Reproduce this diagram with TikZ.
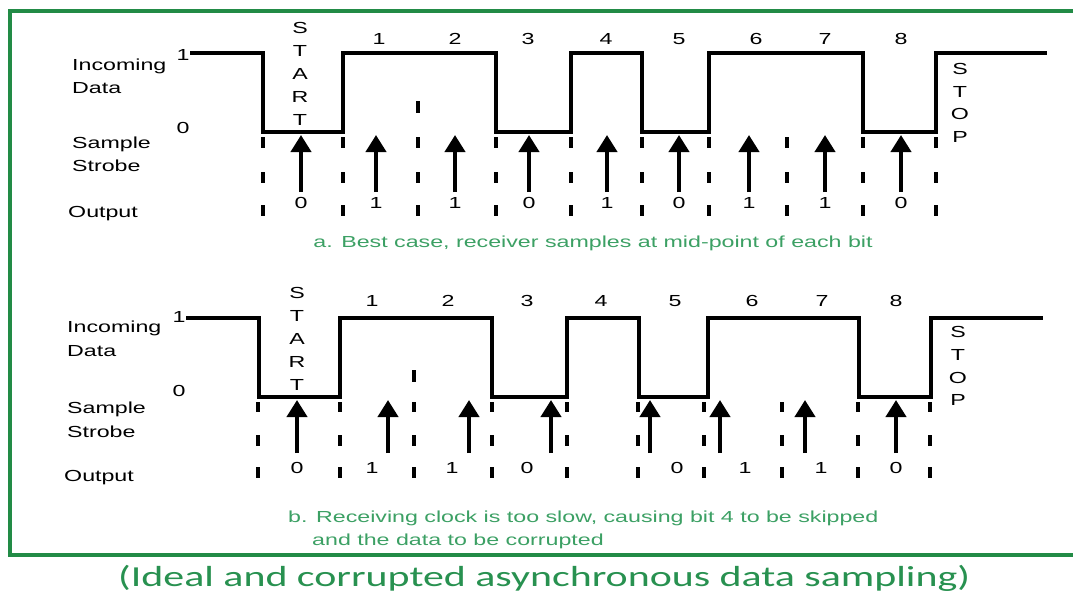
\documentclass[tikz,border=0pt]{standalone}
\usepackage{fontspec}
\usepackage{graphicx}
\usetikzlibrary{arrows.meta}
\newfontfamily\labfont[FakeStretch=1.45]{Liberation Sans}
\newfontfamily\capfont{Carlito}
\definecolor{framegreen}{RGB}{34,139,70}
\definecolor{textgreen}{RGB}{60,160,100}
\definecolor{captiongreen}{RGB}{40,145,80}
\begin{document}
\begin{tikzpicture}[x=1pt,y=-1pt,
  txt/.style={font=\labfont\fontsize{16}{18}\selectfont, inner sep=0pt, text height=11.6pt, text depth=0pt},
  wave/.style={line width=4pt, line join=miter},
  tick/.style={line width=4pt},
  strobe/.style={line width=4pt, -{Triangle[width=20pt,length=17pt]}},
]
\useasboundingbox (0,0) rectangle (1073,595);
% frame
\draw[framegreen, line width=4pt] (1090,11) -- (10,11) -- (10,555) -- (1090,555);

% ===== panel a =====
\node[txt,anchor=west] (inc1) at (72,65) {Incoming};
\node[txt,anchor=west] (dat1) at (72,88) {Data};
\node[txt,anchor=west] (sam1) at (72,143) {Sample};
\node[txt,anchor=west] (str1) at (72,166) {Strobe};
\node[txt,anchor=west] (out1) at (68,212) {Output};
\node[txt] (one1) at (183,55) {1};
\node[txt] (zero1) at (183,128) {0};

\draw[wave] (190,53) -| (263,132) -| (343,53) -| (496,132) -| (571,53) -| (642,132) -| (709,53) -| (863,132) -| (936,53) -- (1047,53);

\foreach \x in {263,343,418,496,571,642,709,787,863,936}
  \foreach \ya/\yb in {137/148,172/183,205/216}
    \draw[tick] (\x,\ya) -- (\x,\yb);
\draw[tick] (418,101) -- (418,113);

\foreach \x [count=\i] in {301,376,455,529,607,679,749,825,901} {
  \coordinate (ta\i) at (\x,192);
  \coordinate (tb\i) at (\x,135);
  \draw[strobe] (ta\i) -- (tb\i);
}

\foreach \l [count=\i] in {S,T,A,R,T}
  \node[txt] (sta\i) at (300,{28+23*(\i-1)}) {\l};
\foreach \l [count=\i] in {S,T,O,P}
  \node[txt] (stoa\i) at (960,{69+22.5*(\i-1)}) {\l};

\foreach \n/\x in {1/379,2/455,3/528,4/606,5/679,6/756,7/825,8/901}
  \node[txt] (bita\n) at (\x,39) {\n};
\foreach \v/\x [count=\i] in {0/301,1/376,1/455,0/529,1/607,0/679,1/749,1/825,0/901}
  \node[txt] (outa\i) at (\x,203) {\v};

\node[txt, textgreen] (capa) at (593,242) {a. Best case, receiver samples at mid-point of each bit};

% ===== panel b =====
\node[txt,anchor=west] (inc2) at (67,327) {Incoming};
\node[txt,anchor=west] (dat2) at (67,351) {Data};
\node[txt,anchor=west] (sam2) at (67,408) {Sample};
\node[txt,anchor=west] (str2) at (67,432) {Strobe};
\node[txt,anchor=west] (out2) at (64,476) {Output};
\node[txt] (one2) at (179,317) {1};
\node[txt] (zero2) at (179,391) {0};

\draw[wave] (186,318) -| (259,397) -| (340,318) -| (492,397) -| (567,318) -| (639,397) -| (708,318) -| (859,397) -| (931,318) -- (1043,318);

\foreach \x in {258,340,414,492,567,638,704,782,858,930}
  \foreach \ya/\yb in {402/412,435/446,467/478}
    \draw[tick] (\x,\ya) -- (\x,\yb);
\draw[tick] (414,370) -- (414,382);

\foreach \x [count=\i] in {297,388,469,551,650,720,805,896} {
  \coordinate (tc\i) at (\x,453);
  \coordinate (td\i) at (\x,400);
  \draw[strobe] (tc\i) -- (td\i);
}

\foreach \l [count=\i] in {S,T,A,R,T}
  \node[txt] (stb\i) at (297,{293+23*(\i-1)}) {\l};
\foreach \l [count=\i] in {S,T,O,P}
  \node[txt] (stob\i) at (958,{332+22.7*(\i-1)}) {\l};

\foreach \n/\x in {1/372,2/448,3/527,4/601,5/675,6/752,7/822,8/896}
  \node[txt] (bitb\n) at (\x,301) {\n};
\foreach \v/\x [count=\i] in {0/297,1/372,1/452,0/527,0/677,1/745,1/821,0/896}
  \node[txt] (outb\i) at (\x,468) {\v};

\node[txt, textgreen, anchor=west] (capb1) at (288,517) {b. Receiving clock is too slow, causing bit 4 to be skipped};
\node[txt, textgreen, anchor=west] (capb2) at (312,540) {and the data to be corrupted};

% main caption
\node[inner sep=0pt, anchor=base west, captiongreen, font=\capfont\fontsize{29}{29}\selectfont] (title) at (118,586)
  {\resizebox{852pt}{\height}{(Ideal and corrupted asynchronous data sampling)}};
\end{tikzpicture}
\end{document}
